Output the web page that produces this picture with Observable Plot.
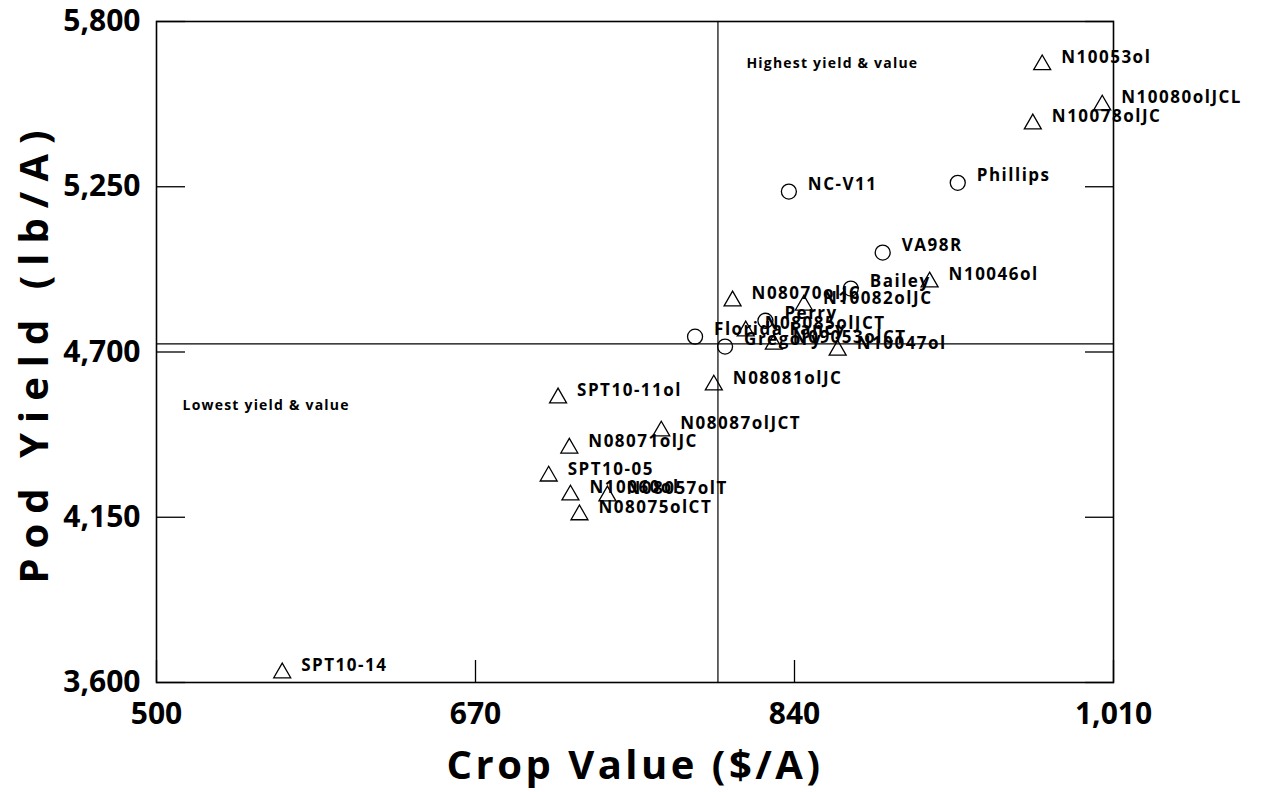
<!DOCTYPE html>
<html><head><meta charset="utf-8">
<script src="https://cdn.jsdelivr.net/npm/d3@7"></script>
<script src="https://cdn.jsdelivr.net/npm/@observablehq/plot@0.6"></script>
<style>
body{margin:0;background:#fff;}
</style></head><body><div id="chart"></div>
<script>
const names = ["N10053ol","N10080olJCL","N10078olJC","Phillips","NC-V11","VA98R","N10046ol","Bailey","N08070olJC","N10082olJC","Perry","N08085olJCT","Florida Fancy","N09053olCT","Gregory","N10047ol","N08081olJC","SPT10-11ol","N08087olJCT","N08071olJC","SPT10-05","N10060ol","N08057olT","N08075olCT","SPT10-14"];
const cropValue = [972,1004,967,927,837,887,912,870,807,845,824.5,814,787,829,803,863,797,714,769,720,709,720.6,740.3,725.4,567];
const podYield = [5656,5522,5459,5263,5234,5031,4933,4911,4870,4856,4804,4770,4751,4726,4718,4706,4590,4547,4437,4380,4287,4224,4221,4158,3632];
const markerType = ["triangle","triangle","triangle","circle","circle","circle","triangle","circle","triangle","triangle","circle","triangle","circle","triangle","circle","triangle","triangle","triangle","triangle","triangle","triangle","triangle","triangle","triangle","triangle"];
const xTicks = [500, 670, 840, 1010];
const yTicks = [3600, 4150, 4700, 5250, 5800];
const dividerValue = [799.2];
const dividerYield = [4727];
const annotations = ["Highest yield & value", "Lowest yield & value"];
const annotationX = [814.4, 513.9];
const annotationY = [5659, 4521];
const xTitle = "Crop Value ($/A)";
const yTitle = "Pod Yield (lb/A)";

const data = names.map((name, i) => ({name, value: cropValue[i], yield: podYield[i], type: markerType[i]}));
const notes = annotations.map((t, i) => ({text: t, x: annotationX[i], y: annotationY[i]}));
const fmt = d3.format(",");
const blank = () => "";

const chart = Plot.plot({
  width: 1262, height: 792,
  marginLeft: 156, marginRight: 149, marginTop: 21, marginBottom: 110,
  style: {fontFamily: "'Open Sans', sans-serif", background: "#fff", color: "#000"},
  x: {domain: [500, 1010]},
  y: {domain: [3600, 5800]},
  marks: [
    Plot.frame({stroke: "#000", strokeWidth: 1.6}),
    Plot.ruleX(dividerValue, {stroke: "#000", strokeWidth: 1.2}),
    Plot.ruleY(dividerYield, {stroke: "#000", strokeWidth: 1.2}),
    Plot.axisX({anchor: "bottom", ticks: xTicks, tickSize: -22, tickFormat: blank, label: null, strokeWidth: 1.3}),
    Plot.axisY({anchor: "left", ticks: yTicks, tickSize: -29, tickFormat: blank, label: null, strokeWidth: 1.3}),
    Plot.axisY({anchor: "right", ticks: yTicks, tickSize: -29, tickFormat: blank, label: null, strokeWidth: 1.3}),
    Plot.axisX({anchor: "bottom", ticks: xTicks, tickSize: 0, tickPadding: 20, tickFormat: fmt, fontSize: 30, fontWeight: "bold", label: null}),
    Plot.axisY({anchor: "left", ticks: yTicks, tickSize: 0, tickPadding: 16, tickFormat: fmt, fontSize: 30, fontWeight: "bold", label: null}),
    Plot.dot(data.filter(d => d.type === "triangle"), {x: "value", y: "yield", symbol: "triangle", r: 6.3, stroke: "#000", strokeWidth: 1.3, fill: "none"}),
    Plot.dot(data.filter(d => d.type === "circle"), {x: "value", y: "yield", symbol: "circle", r: 7.5, stroke: "#000", strokeWidth: 1.3, fill: "none"}),
    Plot.text(data, {x: "value", y: "yield", text: "name", textAnchor: "start", dx: 19, dy: -7, fontSize: 17, fontWeight: "bold", fill: "#000"}),
    Plot.text(notes, {x: "x", y: "y", text: "text", textAnchor: "start", fontSize: 14, fontWeight: "bold", fill: "#000"}),
    Plot.text([xTitle], {text: d => d, frameAnchor: "bottom", dy: 84, lineAnchor: "middle", textAnchor: "middle", fontSize: 40, fontWeight: "bold", fill: "#000"}),
    Plot.text([yTitle], {text: d => d, frameAnchor: "left", dx: -121, rotate: -90, lineAnchor: "middle", textAnchor: "middle", fontSize: 40, fontWeight: "bold", fill: "#000"})
  ]
});
document.getElementById("chart").appendChild(chart);
d3.select(chart).selectAll("text").each(function() {
  const t = this.textContent;
  if (names.includes(t)) this.style.letterSpacing = "1.5px";
  else if (annotations.includes(t)) this.style.letterSpacing = "1.2px";
  else if (t === xTitle) this.style.letterSpacing = "3.5px";
  else if (t === yTitle) this.style.letterSpacing = "10px";
});
</script></body></html>
